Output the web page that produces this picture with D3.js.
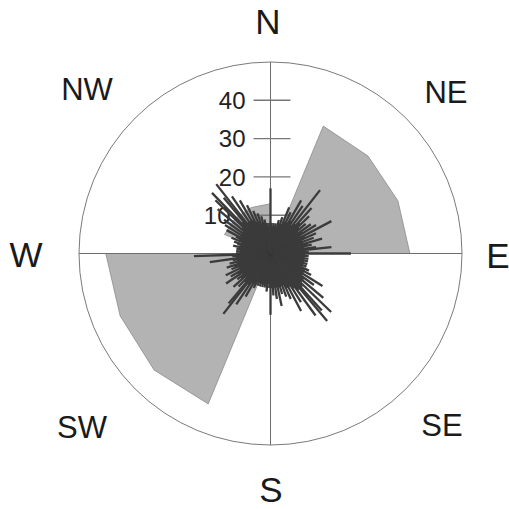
<!DOCTYPE html>
<html>
<head>
<meta charset="utf-8">
<script src="https://cdn.jsdelivr.net/npm/d3@7"></script>
<style>
  html, body { margin: 0; padding: 0; background: #fff; }
  svg { display: block; font-family: "Liberation Sans", Arial, sans-serif; }
</style>
</head>
<body>
<div id="chart"></div>
<script>
'use strict'

// compass labels
var compassNames = ["N", "NE", "E", "SE", "S", "SW", "W", "NW"];
var compassAngles = [0, 45, 90, 135, 180, 225, 270, 315];

// radial ticks
var radialTicks = [10, 20, 30, 40];

// grey sectors (degrees, radius in %)
var neSectorDirs = [22.5, 45, 67.5, 90];
var neSectorVals = [36, 36, 36, 36.4];
var swSectorDirs = [202.5, 225, 247.5, 270];
var swSectorVals = [42.5, 43, 42.5, 43];
var nwSectorDirs = [292.5, 315, 337.5, 360];
var nwSectorVals = [13, 13, 13, 13];

// spikes, one every 2 degrees starting at north
var spikeDirs = d3.range(0, 360, 2);
var spikeVals = [
  17, 8, 7, 8, 7, 8, 7, 9, 8, 10,
  8, 13, 9, 12, 9, 16, 10, 15, 9, 21,
  10, 16, 11, 14, 10, 12, 9, 13, 10, 14,
  9, 18, 10, 13, 9, 12, 9, 14, 10, 11,
  9, 12, 16, 9, 10, 21, 9, 10, 9, 10,
  9, 10, 9, 10, 9, 10, 9, 11, 10, 12,
  10, 16, 10, 14, 11, 18, 11, 22, 12, 20,
  23, 12, 20, 11, 15, 10, 17, 10, 13, 9,
  12, 9, 11, 9, 14, 9, 12, 9, 11, 9,
  16, 9, 8, 10, 8, 9, 8, 9, 8, 9,
  8, 9, 8, 10, 9, 13, 9, 16, 10, 20,
  17, 10, 12, 9, 13, 10, 11, 9, 14, 10,
  12, 9, 13, 9, 11, 10, 12, 9, 11, 9,
  10, 16, 9, 10, 20, 9, 8, 9, 8, 9,
  8, 10, 8, 9, 10, 8, 11, 9, 10, 13,
  9, 14, 9, 15, 9, 18, 10, 20, 22, 11,
  19, 23, 10, 18, 10, 16, 10, 14, 9, 12,
  9, 11, 8, 10, 8, 9, 8, 8, 7, 8
];

var width = 509, height = 509,
    cx = 270.5, cy = 253.5;

var r = d3.scaleLinear().domain([0, 50]).range([0, 191.5]);
var rad = function (deg) { return deg * Math.PI / 180; };

var svg = d3.select("#chart").append("svg")
    .attr("width", width).attr("height", height);

var g = svg.append("g").attr("transform", "translate(" + cx + "," + cy + ")");

// outer circle
g.append("circle")
    .attr("r", r(50))
    .attr("fill", "none")
    .attr("stroke", "#7a7a7a")
    .attr("stroke-width", 1);

// grey sectors
function sector(dirs, vals) {
    var pts = [[0, 0]];
    dirs.forEach(function (d, i) { pts.push(d3.pointRadial(rad(d), r(vals[i]))); });
    return pts;
}
[[neSectorDirs, neSectorVals], [swSectorDirs, swSectorVals], [nwSectorDirs, nwSectorVals]]
    .forEach(function (s) {
        g.append("polygon")
            .attr("points", sector(s[0], s[1]).map(function (p) { return p.join(","); }).join(" "))
            .attr("fill", "#b3b3b3")
            .attr("stroke", "#8c8c8c")
            .attr("stroke-width", 0.8);
    });

// cross axes
g.append("line").attr("x1", 0).attr("x2", 0).attr("y1", -r(50)).attr("y2", r(50))
    .attr("stroke", "#6e6e6e").attr("stroke-width", 1);
g.append("line").attr("y1", 0).attr("y2", 0).attr("x1", -r(50)).attr("x2", r(50))
    .attr("stroke", "#6e6e6e").attr("stroke-width", 1);

// radial ticks on the north axis
var ticks = g.append("g").selectAll("g").data(radialTicks).enter().append("g");
ticks.append("line")
    .attr("x1", -17).attr("x2", 20)
    .attr("y1", function (d) { return -r(d); })
    .attr("y2", function (d) { return -r(d); })
    .attr("stroke", "#777").attr("stroke-width", 1.4);
ticks.append("text")
    .attr("x", function (d) { return d === 10 ? -40 : -25; })
    .attr("y", function (d) { return -r(d); })
    .attr("dy", "0.36em")
    .attr("text-anchor", "end")
    .attr("font-size", 24)
    .attr("fill", "#222")
    .text(function (d) { return d; });

// spikes
g.append("g").selectAll("line").data(spikeVals).enter().append("line")
    .attr("x1", 0).attr("y1", 0)
    .attr("x2", function (d, i) { return d3.pointRadial(rad(spikeDirs[i]), r(d))[0]; })
    .attr("y2", function (d, i) { return d3.pointRadial(rad(spikeDirs[i]), r(d))[1]; })
    .attr("stroke", "#3b3b3b")
    .attr("stroke-width", 2.3);

// compass labels
var labelPos = {
    N: [268, 21], NE: [446, 92], E: [498, 255], SE: [442, 425],
    S: [271, 489], SW: [82, 427], W: [26, 254], NW: [87, 89]
};
svg.append("g").selectAll("text").data(compassNames).enter().append("text")
    .attr("x", function (d) { return labelPos[d][0]; })
    .attr("y", function (d) { return labelPos[d][1]; })
    .attr("dy", "0.36em")
    .attr("text-anchor", "middle")
    .attr("font-size", function (d, i) { return compassAngles[i] % 90 === 0 ? 35 : 31; })
    .attr("fill", "#1a1a1a")
    .text(function (d) { return d; });
</script>
</body>
</html>
